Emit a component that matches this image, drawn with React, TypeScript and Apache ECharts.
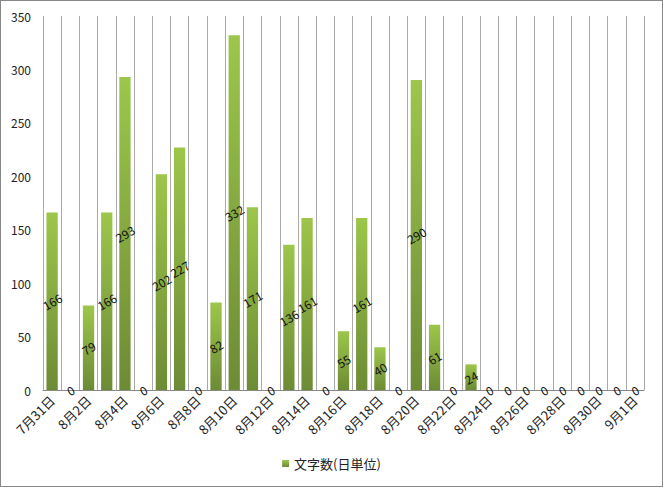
import React, { useEffect, useRef } from "react";
import * as echarts from "echarts";

const categories = [
  "7月31日", "8月1日", "8月2日", "8月3日", "8月4日", "8月5日", "8月6日", "8月7日", "8月8日",
  "8月9日", "8月10日", "8月11日", "8月12日", "8月13日", "8月14日", "8月15日", "8月16日",
  "8月17日", "8月18日", "8月19日", "8月20日", "8月21日", "8月22日", "8月23日", "8月24日",
  "8月25日", "8月26日", "8月27日", "8月28日", "8月29日", "8月30日", "8月31日", "9月1日",
];
const values = [
  166, 0, 79, 166, 293, 0, 202, 227, 0, 82, 332, 171, 0, 136, 161, 0, 55,
  161, 40, 0, 290, 61, 0, 24, 0, 0, 0, 0, 0, 0, 0, 0, 0,
];
const seriesName = "文字数(日単位)";
const yTicks = { min: 0, max: 350, interval: 50 };

const FONT = "'Noto Sans CJK JP', 'Noto Sans', sans-serif";

export default function App() {
  const ref = useRef<HTMLDivElement>(null);
  useEffect(() => {
    if (!ref.current) return;
    const chart = echarts.init(ref.current, undefined, { renderer: "svg" });
    chart.setOption({
      animation: false,
      grid: { left: 42, right: 18, top: 15, bottom: 96 },
      legend: {
        bottom: 11,
        left: "center",
        itemWidth: 7,
        itemHeight: 7,
        icon: "rect",
        itemGap: 4,
        textStyle: { fontFamily: FONT, fontSize: 13, color: "#222" },
        data: [seriesName],
      },
      xAxis: {
        type: "category",
        data: categories,
        axisLine: { show: true, lineStyle: { color: "#888", width: 1 } },
        axisTick: { show: false },
        splitLine: { show: true, interval: 0, lineStyle: { color: "#aaa", width: 1 } },
        axisLabel: {
          interval: 1,
          rotate: 45,
          fontFamily: FONT,
          fontSize: 13,
          color: "#222",
          margin: 8,
        },
      },
      yAxis: {
        type: "value",
        min: yTicks.min,
        max: yTicks.max,
        interval: yTicks.interval,
        axisLine: { show: false },
        axisTick: { show: false },
        splitLine: { show: false },
        axisLabel: { fontFamily: FONT, fontSize: 12, color: "#222", margin: 12 },
      },
      series: [
        {
          name: seriesName,
          type: "bar",
          data: values,
          barCategoryGap: "38%",
          itemStyle: {
            color: new echarts.graphic.LinearGradient(0, 0, 0, 1, [
              { offset: 0, color: "#9dc64b" },
              { offset: 1, color: "#6d8b35" },
            ]),
          },
          label: {
            show: true,
            position: "inside",
            rotate: 30,
            fontFamily: FONT,
            fontSize: 12,
            color: "#111",
          },
        },
      ],
    });
    return () => chart.dispose();
  }, []);
  return (
    <div
      style={{
        position: "fixed",
        left: 0,
        top: 0,
        width: 663,
        height: 487,
        boxSizing: "border-box",
        border: "1px solid #888",
        background: "#fff",
      }}
    >
      <div ref={ref} style={{ width: 661, height: 485 }} />
    </div>
  );
}
